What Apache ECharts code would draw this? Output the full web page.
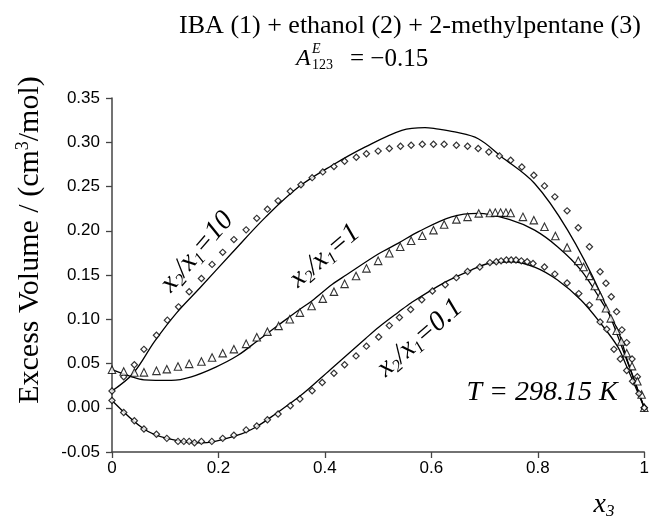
<!DOCTYPE html>
<html>
<head>
<meta charset="utf-8">
<script src="https://cdn.jsdelivr.net/npm/echarts@6/dist/echarts.min.js"></script>
<style>html,body{margin:0;padding:0;background:#fff}#c{width:652px;height:516px}</style>
</head>
<body>
<div id="c"></div>
<script>
// ---- data ----
const yTicks = [-0.05, 0.00, 0.05, 0.10, 0.15, 0.20, 0.25, 0.30, 0.35];
const xTicks = [0, 0.2, 0.4, 0.6, 0.8, 1];

// x2/x1 = 10 : experimental points (diamonds)
const exp10X = [0,0.022,0.042,0.060,0.0835,0.104,0.125,0.145,0.168,0.188,0.208,0.229,0.252,0.272,0.292,0.312,0.335,0.355,0.376,0.396,0.417,0.437,0.459,0.478,0.500,0.521,0.542,0.562,0.583,0.604,0.624,0.647,0.668,0.688,0.708,0.728,0.749,0.770,0.7925,0.8125,0.832,0.855,0.876,0.897,0.917,0.928,0.938,0.948,0.958,0.967,0.977,0.987,1.0];
const exp10Y = [0.019,0.035,0.0485,0.066,0.082,0.099,0.114,0.131,0.146,0.162,0.1756,0.190,0.201,0.214,0.2244,0.2338,0.2447,0.252,0.260,0.2665,0.2725,0.2786,0.283,0.287,0.290,0.293,0.2955,0.2966,0.2977,0.2977,0.2977,0.2966,0.2955,0.293,0.289,0.2846,0.2797,0.272,0.2628,0.2507,0.2383,0.2225,0.2033,0.182,0.1537,0.1406,0.1255,0.1086,0.088,0.0736,0.055,0.035,0.0];

// x2/x1 = 1 : experimental points (triangles)
const exp1X = [0,0.022,0.042,0.060,0.0835,0.103,0.124,0.145,0.168,0.188,0.208,0.229,0.252,0.272,0.292,0.313,0.334,0.353,0.375,0.396,0.417,0.437,0.4585,0.478,0.500,0.521,0.5415,0.562,0.583,0.604,0.624,0.647,0.668,0.689,0.710,0.720,0.730,0.740,0.749,0.772,0.7925,0.8125,0.833,0.855,0.876,0.886,0.897,0.907,0.917,0.928,0.937,0.948,0.957,0.967,0.977,0.987,0.995,1.0];
const exp1Y = [0.0429,0.041,0.0398,0.040,0.0417,0.0436,0.0466,0.0496,0.0522,0.0567,0.0617,0.0662,0.0722,0.0797,0.086,0.0925,0.100,0.1075,0.115,0.1233,0.1312,0.140,0.1489,0.1575,0.166,0.1745,0.182,0.1887,0.1943,0.2007,0.207,0.2128,0.2157,0.2196,0.220,0.2205,0.2205,0.2205,0.220,0.2157,0.212,0.2045,0.194,0.1812,0.166,0.159,0.149,0.1376,0.1263,0.1124,0.101,0.087,0.0748,0.0617,0.047,0.030,0.015,0.0];

// x2/x1 = 0.1 : experimental points (diamonds)
const exp01X = [0,0.022,0.042,0.060,0.0835,0.103,0.124,0.135,0.145,0.155,0.168,0.1875,0.208,0.229,0.252,0.272,0.292,0.312,0.335,0.353,0.376,0.395,0.417,0.437,0.4585,0.478,0.501,0.521,0.540,0.561,0.582,0.602,0.626,0.647,0.668,0.691,0.710,0.722,0.731,0.741,0.750,0.759,0.769,0.780,0.791,0.8125,0.832,0.855,0.877,0.897,0.917,0.9295,0.943,0.955,0.967,0.978,0.990,1.0];
const exp01Y = [0.0082,-0.0053,-0.0147,-0.024,-0.030,-0.0346,-0.038,-0.038,-0.038,-0.0395,-0.038,-0.038,-0.0346,-0.031,-0.025,-0.0207,-0.0135,-0.0071,0.0023,0.0098,0.0192,0.0285,0.039,0.0485,0.0586,0.0696,0.080,0.0928,0.102,0.111,0.122,0.132,0.139,0.147,0.154,0.159,0.164,0.165,0.166,0.167,0.167,0.167,0.166,0.165,0.163,0.159,0.151,0.141,0.129,0.116,0.097,0.0888,0.066,0.055,0.042,0.030,0.016,0.0];

// model curves (solid lines)
const fit10X = [0,0.04,0.08,0.121,0.1645,0.227,0.289,0.351,0.414,0.476,0.5445,0.588,0.607,0.644,0.688,0.731,0.794,0.856,0.918,0.967,1.0];
const fit10Y = [0.019,0.039,0.075,0.107,0.135,0.176,0.2157,0.2496,0.274,0.2947,0.3135,0.3166,0.3154,0.3116,0.304,0.284,0.2534,0.2007,0.129,0.054,0.0];

const fit1X = [0,0.037,0.06,0.1115,0.149,0.195,0.236,0.273,0.314,0.351,0.376,0.414,0.44,0.501,0.538,0.576,0.638,0.688,0.75,0.794,0.837,0.881,0.918,0.95,0.968,1.0];
const fit1Y = [0.043,0.035,0.0316,0.031,0.035,0.046,0.059,0.0755,0.094,0.1105,0.121,0.1395,0.150,0.174,0.186,0.199,0.2157,0.2196,0.212,0.2007,0.182,0.1556,0.1218,0.088,0.054,0.0];

const fit01X = [0,0.06,0.1034,0.1676,0.236,0.27,0.30,0.355,0.41,0.476,0.501,0.538,0.563,0.626,0.675,0.7065,0.75,0.794,0.837,0.881,0.918,0.95,0.967,1.0];
const fit01Y = [0.0082,-0.024,-0.0346,-0.0398,-0.031,-0.022,-0.010,0.014,0.043,0.078,0.091,0.108,0.119,0.142,0.1556,0.163,0.165,0.159,0.1444,0.1218,0.0955,0.069,0.0466,0.0];

const zip = (xs, ys) => xs.map((x, i) => [x, ys[i]]);

const chart = echarts.init(document.getElementById('c'), null, {renderer: 'canvas'});
const serif = '"Liberation Serif","Times New Roman",serif';
const sans = '"Liberation Sans",Arial,sans-serif';

const diamond = {
  type: 'scatter', symbol: 'rect', symbolSize: 4.4, symbolRotate: 45,
  itemStyle: {color: '#fff', borderColor: '#000', borderWidth: 1.2}, z: 3, silent: true
};
const lineS = {
  type: 'line', smooth: 0.35, showSymbol: false, symbol: 'none',
  lineStyle: {color: '#000', width: 1.3}, z: 2, silent: true
};

function curveLabel(x, y, deg, val) {
  return {
    type: 'text', x: x, y: y, rotation: deg * Math.PI / 180,
    style: {
      text: '{i|x}{s|2}{i|/x}{s|1}{i|=' + val + '}',
      align: 'center', verticalAlign: 'middle', fill: '#000',
      rich: {
        i: {fontFamily: serif, fontStyle: 'italic', fontSize: 28, fill: '#000'},
        s: {fontFamily: serif, fontStyle: 'italic', fontSize: 17, fill: '#000', padding: [14, 0, 0, 0]}
      }
    }
  };
}

chart.setOption({
  animation: false,
  backgroundColor: '#fff',
  grid: {left: 112, right: 4, top: 98, bottom: 64, containLabel: false},
  xAxis: {
    type: 'value', min: 0, max: 1, interval: 0.2,
    axisLine: {show: true, onZero: false, lineStyle: {color: '#444', width: 1.5}},
    axisTick: {show: true, inside: false, length: 6, lineStyle: {color: '#444', width: 1.3}},
    splitLine: {show: false},
    axisLabel: {
      color: '#000', fontFamily: sans, fontSize: 17, margin: 8,
      formatter: v => { const t = xTicks.find(k => Math.abs(k - v) < 1e-6); return t === undefined ? '' : String(t); }
    }
  },
  yAxis: {
    type: 'value', min: -0.05, max: 0.35, interval: 0.05,
    axisLine: {show: true, onZero: false, lineStyle: {color: '#444', width: 1.5}},
    axisTick: {show: true, inside: false, length: 6, lineStyle: {color: '#444', width: 1.3}},
    splitLine: {show: false},
    axisLabel: {
      color: '#000', fontFamily: sans, fontSize: 17, margin: 12,
      formatter: v => { const t = yTicks.find(k => Math.abs(k - v) < 1e-6); return t === undefined ? '' : t.toFixed(2); }
    }
  },
  series: [
    Object.assign({}, lineS, {data: zip(fit10X, fit10Y)}),
    Object.assign({}, lineS, {data: zip(fit1X, fit1Y)}),
    Object.assign({}, lineS, {data: zip(fit01X, fit01Y)}),
    Object.assign({}, diamond, {data: zip(exp10X, exp10Y)}),
    {type: 'scatter', symbol: 'triangle', symbolSize: 7.5, silent: true, z: 3,
     itemStyle: {color: '#fff', borderColor: '#000', borderWidth: 1.1},
     data: zip(exp1X, exp1Y)},
    Object.assign({}, diamond, {data: zip(exp01X, exp01Y)})
  ],
  graphic: [
    {type: 'text', x: 410, y: 26, style: {text: 'IBA (1) + ethanol (2) + 2-methylpentane (3)', font: '26px ' + serif, fill: '#000', align: 'center', verticalAlign: 'middle'}},
    {type: 'text', x: 296, y: 59, style: {text: 'A', font: 'italic 24px ' + serif, fill: '#000', align: 'left', verticalAlign: 'middle'}},
    {type: 'text', x: 312, y: 49, style: {text: 'E', font: 'italic 14px ' + serif, fill: '#000', align: 'left', verticalAlign: 'middle'}},
    {type: 'text', x: 312, y: 65, style: {text: '123', font: '14px ' + serif, fill: '#000', align: 'left', verticalAlign: 'middle'}},
    {type: 'text', x: 350, y: 59, style: {text: '= \u22120.15', font: '25px ' + serif, fill: '#000', align: 'left', verticalAlign: 'middle'}},
    {type: 'text', x: 30, y: 240, rotation: Math.PI / 2, style: {
      text: '{t|Excess Volume / (cm}{sup|3}{t|/mol)}', align: 'center', verticalAlign: 'middle', fill: '#000',
      rich: {
        t: {fontFamily: serif, fontSize: 30, fill: '#000'},
        sup: {fontFamily: serif, fontSize: 18, fill: '#000', padding: [0, 0, 13, 0]}
      }}},
    curveLabel(197, 252, 49, '10'),
    curveLabel(325, 256, 40, '1'),
    curveLabel(420, 338, 41, '0.1'),
    {type: 'text', x: 542, y: 393, style: {text: 'T = 298.15 K', font: 'italic 28px ' + serif, fill: '#000', align: 'center', verticalAlign: 'middle'}},
    {type: 'text', x: 604, y: 505, style: {
      text: '{i|x}{s|3}', align: 'center', verticalAlign: 'middle', fill: '#000',
      rich: {
        i: {fontFamily: serif, fontStyle: 'italic', fontSize: 28, fill: '#000'},
        s: {fontFamily: serif, fontStyle: 'italic', fontSize: 17, fill: '#000', padding: [14, 0, 0, 0]}
      }}}
  ]
});
</script>
</body>
</html>
